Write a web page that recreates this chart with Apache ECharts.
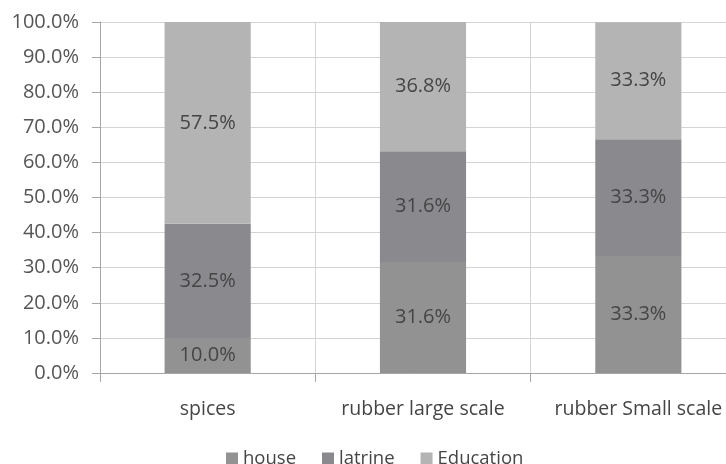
<!DOCTYPE html>
<html>
<head>
<meta charset="utf-8">
<script src="https://cdn.jsdelivr.net/npm/echarts@6/dist/echarts.min.js"></script>
<style>
  html, body { margin: 0; padding: 0; background: #fff; }
  #chart { width: 726px; height: 464px; }
</style>
</head>
<body>
<div id="chart"></div>
<script>
// Share of spending per crop type (percent of total)
const categories = ['spices', 'rubber large scale', 'rubber Small scale'];
const house = [10.0, 31.6, 33.3];
const latrine = [32.5, 31.6, 33.3];
const education = [57.5, 36.8, 33.3];
const yTicks = [0, 10, 20, 30, 40, 50, 60, 70, 80, 90, 100];

const FONT = '"Open Sans", sans-serif';

function seg(name, data, color) {
  return {
    name: name,
    type: 'bar',
    stack: 'total',
    data: data,
    barWidth: '40%',
    itemStyle: { color: color },
    label: {
      show: true,
      position: 'inside',
      formatter: p => p.value.toFixed(1) + '%',
      color: '#454545',
      fontFamily: FONT,
      fontSize: 20
    },
    emphasis: { disabled: true }
  };
}

const chart = echarts.init(document.getElementById('chart'));
chart.setOption({
  animation: false,
  backgroundColor: '#ffffff',
  grid: {
    left: 100, top: 22, width: 646, height: 351,
    containLabel: false,
    outerBoundsMode: 'none'
  },
  legend: {
    left: 221,
    top: 444,
    itemWidth: 12,
    itemHeight: 12,
    itemGap: 26,
    icon: 'rect',
    textStyle: { color: '#454545', fontFamily: FONT, fontSize: 18.5 },
    data: ['house', 'latrine', 'Education']
  },
  xAxis: {
    type: 'category',
    data: categories,
    boundaryGap: true,
    axisLine: { lineStyle: { color: '#a6a6a6', width: 1 } },
    axisTick: { show: true, interval: 0, length: 9, lineStyle: { color: '#a6a6a6' } },
    splitLine: { show: true, interval: 0, lineStyle: { color: '#d4d4d4', width: 1 } },
    axisLabel: {
      interval: 0,
      hideOverlap: false,
      color: '#454545',
      fontFamily: FONT,
      fontSize: 19.5,
      margin: 26
    }
  },
  yAxis: {
    type: 'value',
    min: yTicks[0],
    max: yTicks[yTicks.length - 1],
    interval: 10,
    axisLine: { show: true, lineStyle: { color: '#a6a6a6', width: 1 } },
    axisTick: { show: true, length: 8, lineStyle: { color: '#a6a6a6' } },
    splitLine: { show: true, lineStyle: { color: '#d4d4d4', width: 1 } },
    axisLabel: {
      color: '#555555',
      fontFamily: FONT,
      fontSize: 20,
      margin: 21,
      formatter: v => v.toFixed(1) + '%'
    }
  },
  series: [
    seg('house', house, '#929292'),
    seg('latrine', latrine, '#8a898e'),
    seg('Education', education, '#b4b4b4')
  ]
});
</script>
</body>
</html>
